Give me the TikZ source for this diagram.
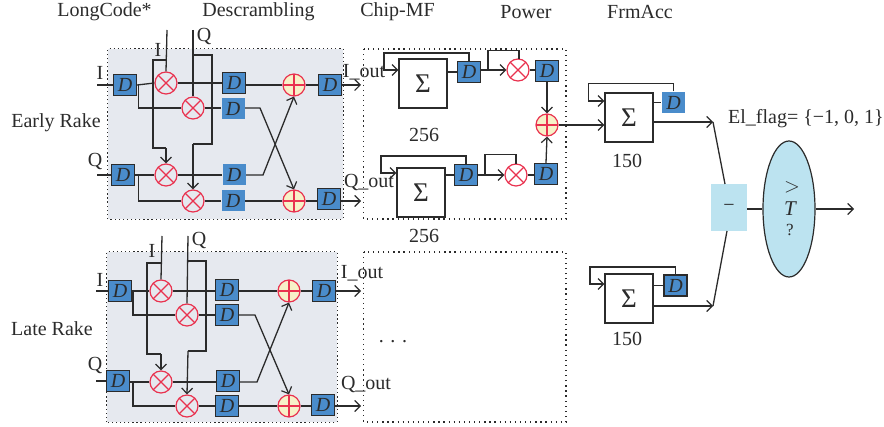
\documentclass[tikz,border=0pt]{standalone}
\usepackage{fontspec}
\setmainfont{Liberation Serif}
\usetikzlibrary{arrows.meta,shapes.geometric}
\definecolor{ink}{HTML}{2B2B2B}
\definecolor{dblue}{HTML}{4A8CCB}
\definecolor{rk}{HTML}{E6E9EF}
\definecolor{redc}{HTML}{E9324F}
\definecolor{addf}{HTML}{F7F1C8}
\definecolor{skyb}{HTML}{BCE3F0}
\tikzset{
 wire/.style={draw=ink,line width=1.3pt},
 arr/.style={wire,-{Straight Barb[length=5.5pt,width=11pt,line width=1.2pt]}},
 dbox/.style={rectangle,draw=ink,line width=1.3pt,fill=dblue,minimum width=23pt,minimum height=21pt,inner sep=0pt,font=\fontsize{20}{20}\selectfont\itshape,text=ink},
 dlight/.style={dbox,draw=none},
 mul/.style={circle,draw=redc,line width=1.2pt,minimum size=22pt,inner sep=0pt,
  path picture={\draw[redc,line width=1.2pt] (path picture bounding box.south west)--(path picture bounding box.north east) (path picture bounding box.north west)--(path picture bounding box.south east);}},
 addr/.style={circle,draw=redc,fill=addf,line width=1.2pt,minimum size=22pt,inner sep=0pt,
  path picture={\draw[redc,line width=1.2pt] (path picture bounding box.south)--(path picture bounding box.north) (path picture bounding box.west)--(path picture bounding box.east);}},
 sumbox/.style={rectangle,draw=ink,fill=white,line width=1.2pt,minimum width=48pt,minimum height=49pt,inner sep=0pt,font=\fontsize{27}{27}\selectfont,text=ink},
 dots/.style={draw=ink,line width=1.1pt,dash pattern=on 1.3pt off 2.8pt},
 sparse/.style={draw=ink,line width=1.1pt,dash pattern=on 1.3pt off 3.8pt},
 lbl/.style={inner sep=0pt,text=ink,font=\fontsize{20}{22}\selectfont},
}
\begin{document}
\begin{tikzpicture}[x=1pt,y=-1pt]
\useasboundingbox (0,0) rectangle (884,427);
% panels
\node[draw=none,fill=rk,minimum width=235pt,minimum height=170pt,inner sep=0pt] (ep) at (225.5,134) {};
\node[draw=none,fill=rk,minimum width=230pt,minimum height=170pt,inner sep=0pt] (lp) at (222,337) {};
\draw[dots] (ep.south west) rectangle (ep.north east);
\draw[dots] (lp.south west) rectangle (lp.north east);
\coordinate (cha) at (363.5,49); \coordinate (chb) at (566,219);
\coordinate (lta) at (363.5,252); \coordinate (ltb) at (566,422);
\draw[sparse] (cha) rectangle (chb);
\draw[sparse] (lta) rectangle (ltb);
% early rake
\node[dbox] (e1) at (125,85) {D};
\node[dbox] (e2) at (123,175) {D};
\node[dbox] (e3) at (234,83) {D};
\node[dbox,draw=none] (e4) at (233,109) {D};
\node[dlight] (e5) at (234,175) {D};
\node[dlight] (e6) at (233,201) {D};
\node[dbox] (e7) at (330,85) {D};
\node[dbox,line width=1.7pt] (e8) at (329,199) {D};
\node[mul] (em1) at (166,83) {};
\node[mul] (em2) at (193,108) {};
\node[mul] (em3) at (166,175) {};
\node[mul] (em4) at (193,201) {};
\node[addr] (ea1) at (294,85) {};
\node[addr] (ea2) at (294,201) {};
\coordinate (eiin) at (97,85); \coordinate (eqin) at (97,175);
\coordinate (eiout) at (361,85); \coordinate (eqout) at (361,201);
\coordinate (elci) at (167,30); \coordinate (elcq) at (193,30);
\draw[wire] (eiin) -- (e1.west);
\draw[wire] (eqin) -- (e2.west);
\draw[wire] (e1.east) -- (em1.west);
\draw[wire] (em1.east) -- (e3.west |- em1.east);
\draw[wire] (e3.east |- ea1.west) -- (ea1.west);
\draw[wire] (ea1.east) -- (e7.west);
\draw[arr] (e7.east) -- (eiout);
\draw[wire] (e2.east) -- (em3.west);
\draw[wire] (em3.east) -- (e5.west);
\draw[arr] (e8.east |- eqout) -- (eqout);
\draw[wire] (138.5,85) |- (em2.west);
\draw[wire] (em2.east) -- (e4.west |- em2.east);
\draw[wire] (138.5,175) |- (em4.west);
\draw[wire] (em4.east) -- (e6.west);
\draw[wire] (e6.east) -- (ea2.west);
\draw[wire] (ea2.east) -- (e8.west |- ea2.east);
\draw[arr] (e4.east |- em2.east) -- (260,108) -- (ea2.north);
\draw[arr] (e5.east) -- (263,175) -- (ea1.south);
\draw[wire] (elci) -- (em1.north);
\draw[wire] (167,60) -- (153,60) -- (153,148) -- (166,148);
\draw[arr] (166,148) -- (em3.north);
\draw[wire] (elcq) -- (em2.north);
\draw[wire] (193,55) -- (212,55) -- (212,144) -- (193,144);
\draw[arr] (193,144) -- (em4.north);
% late rake
\node[dbox] (l1) at (120,291) {D};
\node[dbox] (l2) at (118,381) {D};
\node[dbox] (l3) at (227,290) {D};
\node[dbox] (l4) at (227,315) {D};
\node[dbox] (l5) at (228,381) {D};
\node[dbox] (l6) at (227,406) {D};
\node[dbox] (l7) at (324,291) {D};
\node[dbox] (l8) at (323,405) {D};
\node[mul] (lm1) at (161,291) {};
\node[mul] (lm2) at (187,315) {};
\node[mul] (lm3) at (161,382) {};
\node[mul] (lm4) at (187,406) {};
\node[addr] (la1) at (289,291) {};
\node[addr] (la2) at (289,406) {};
\coordinate (liin) at (96,291); \coordinate (lqin) at (96,381);
\coordinate (liout) at (361,291); \coordinate (lqout) at (361,406);
\coordinate (llci) at (162,236); \coordinate (llcq) at (188,236);
\draw[wire] (liin) -- (l1.west);
\draw[wire] (lqin) -- (l2.west);
\draw[wire] (l1.east) -- (lm1.west);
\draw[wire] (lm1.east) -- (l3.west |- lm1.east);
\draw[wire] (l3.east |- la1.west) -- (la1.west);
\draw[wire] (la1.east) -- (l7.west);
\draw[arr] (l7.east) -- (liout);
\draw[wire] (l2.east |- lm3.west) -- (lm3.west);
\draw[wire] (lm3.east) -- (l5.west |- lm3.east);
\draw[wire] (133,291) |- (lm2.west);
\draw[wire] (lm2.east) -- (l4.west);
\draw[wire] (133,382) |- (lm4.west);
\draw[wire] (lm4.east) -- (l6.west);
\draw[wire] (l6.east) -- (la2.west);
\draw[wire] (la2.east) -- (l8.west |- la2.east);
\draw[arr] (l8.east |- lqout) -- (lqout);
\draw[arr] (l4.east) -- (255,315) -- (la2.north);
\draw[arr] (l5.east |- lm3.east) -- (257,382) -- (la1.south);
\draw[wire] (llci) -- (lm1.north);
\draw[wire] (162,263) -- (147,263) -- (147,354) -- (161,354);
\draw[arr] (161,354) -- (lm3.north);
\draw[wire] (llcq) -- (lm2.north);
\draw[wire] (188,261) -- (206,261) -- (206,351) -- (188,351);
\draw[arr] (188,351) -- (lm4.north);
% chip-MF & power
\node[sumbox] (s1) at (423,83.5) {Σ};
\node[sumbox] (s2) at (421,192.5) {Σ};
\node[dbox] (c1) at (469,72) {D};
\node[dbox] (c2) at (466,175) {D};
\node[mul] (cm1) at (518,70) {};
\node[mul] (cm2) at (516,175) {};
\node[dbox] (c3) at (547,71) {D};
\node[dbox] (c4) at (546,174) {D};
\node[addr] (ca) at (547,125) {};
\draw[wire] (s1.east |- c1.west) -- (c1.west);
\draw[wire] (s2.east |- c2.west) -- (c2.west);
\draw[arr] (c1.north) -- (c1.north |- 0,53) -- (384,53) -- (384,70) -- (s1.west |- 0,70);
\draw[arr] (c2.north) -- (c2.north |- 0,156) -- (381,156) -- (381,173) -- (s2.west |- 0,173);
\draw[arr] (c1.east |- cm1.west) -- (cm1.west);
\draw[arr] (c2.east) -- (cm2.west);
\draw[wire] (488,70) -- (488,50.5) -- (519,50.5) -- (519,59);
\draw[wire] (485,175) -- (485,154.5) -- (516,154.5) -- (516,164);
\draw[wire] (cm1.east) -- (c3.west |- cm1.east);
\draw[wire] (cm2.east) -- (c4.west |- cm2.east);
\draw[arr] (c3.south) -- (ca.north);
\draw[arr] (c4.north) -- (ca.south);
% frame accumulators
\node[sumbox] (s3) at (629,117.5) {Σ};
\node[sumbox] (s4) at (629,298.5) {Σ};
\node[dlight] (f1) at (673.5,102.5) {D};
\node[dbox,line width=1.7pt] (f2) at (675.5,285.5) {D};
\coordinate (ts) at (713,122);
\coordinate (bs) at (713,306);
\node[rectangle,fill=skyb,minimum width=36pt,minimum height=47pt,inner sep=0pt,text=ink,font=\fontsize{20}{20}\selectfont] (minus) at (729,207.5) {−};
\node[ellipse,draw=ink,fill=skyb,line width=1.2pt,minimum width=52pt,minimum height=136pt,inner sep=0pt] (cmp) at (789,209) {};
\coordinate (res) at (854,209);
\draw[arr] (ca.east) -- (s3.west |- ca.east);
\draw[wire] (s3.east |- f1.west) -- (f1.west);
\draw[wire] (s4.east |- f2.west) -- (f2.west);
\draw[arr] (f1.north) -- (f1.north |- 0,83.5) -- (588.5,83.5) -- (588.5,101) -- (s3.west |- 0,101);
\draw[arr] (f2.north) -- (f2.north |- 0,267) -- (590,267) -- (590,284) -- (s4.west |- 0,284);
\draw[arr] (s3.east |- ts) -- (ts);
\draw[arr] (s4.east |- bs) -- (bs);
\draw[wire] (ts) -- (725,184);
\draw[wire] (bs) -- (727,231);
\draw[wire] (minus.east |- cmp.west) -- (cmp.west);
\draw[arr] (cmp.east) -- (res);
% labels
\node[lbl] at (792,187) {$>$};
\node[lbl,font=\fontsize{21}{21}\selectfont\itshape] at (790,209) {T};
\node[lbl,font=\fontsize{17}{17}\selectfont] at (790,230) {?};
\node[lbl] (h1) at (104.5,12) {LongCode*};
\node[lbl] (h2) at (258.5,12) {Descrambling};
\node[lbl] (h3) at (397.5,12) {Chip-MF};
\node[lbl] (h4) at (526,12) {Power};
\node[lbl] (h5) at (640,12) {FrmAcc};
\node[lbl] (er) at (56,123) {Early Rake};
\node[lbl] (lr) at (52,329) {Late Rake};
\node[lbl] at (100,73) {I};
\node[lbl] at (95,162) {Q};
\node[lbl] at (158,50) {I};
\node[lbl] at (204,37) {Q};
\node[lbl] at (100,280) {I};
\node[lbl] at (95,366) {Q};
\node[lbl] at (152,251) {I};
\node[lbl] at (199,241) {Q};
\node[lbl] at (364,72) {I\_out};
\node[lbl] at (369,183) {Q\_out};
\node[lbl] at (362,273) {I\_out};
\node[lbl] at (366,385) {Q\_out};
\node[lbl] at (424,135) {256};
\node[lbl] at (424,236) {256};
\node[lbl] at (627,161) {150};
\node[lbl] at (627,339) {150};
\node[lbl] at (393,342) {. . .};
\node[lbl,anchor=west] at (728,119) {El\_flag= \{−1, 0, 1\}};
\end{tikzpicture}
\end{document}
